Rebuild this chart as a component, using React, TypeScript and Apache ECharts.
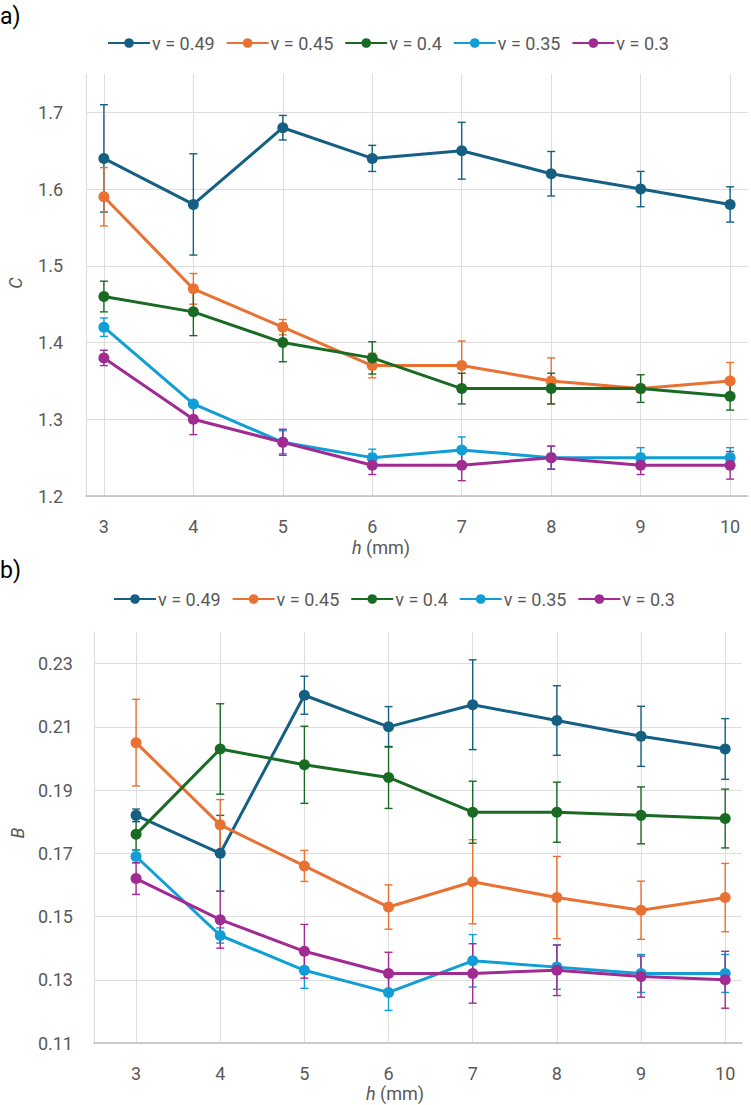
import React, { useEffect, useRef } from "react";
import * as echarts from "echarts";

const H_VALUES = [3, 4, 5, 6, 7, 8, 9, 10];
const SERIES_NAMES = ["ν = 0.49", "ν = 0.45", "ν = 0.4", "ν = 0.35", "ν = 0.3"];
const COLORS = ["#156082", "#E97132", "#196B24", "#0F9ED5", "#A02B93"];

// Panel a) C
const C_049 = [1.64, 1.58, 1.68, 1.64, 1.65, 1.62, 1.6, 1.58];
const C_049_ERR = [0.07, 0.066, 0.016, 0.017, 0.037, 0.029, 0.023, 0.023];
const C_045 = [1.59, 1.47, 1.42, 1.37, 1.37, 1.35, 1.34, 1.35];
const C_045_ERR = [0.038, 0.02, 0.01, 0.016, 0.032, 0.03, 0.005, 0.024];
const C_04 = [1.46, 1.44, 1.4, 1.38, 1.34, 1.34, 1.34, 1.33];
const C_04_ERR = [0.02, 0.031, 0.025, 0.021, 0.02, 0.02, 0.018, 0.018];
const C_035 = [1.42, 1.32, 1.27, 1.25, 1.26, 1.25, 1.25, 1.25];
const C_035_ERR = [0.012, 0.003, 0.015, 0.011, 0.017, 0.015, 0.013, 0.013];
const C_03 = [1.38, 1.3, 1.27, 1.24, 1.24, 1.25, 1.24, 1.24];
const C_03_ERR = [0.01, 0.02, 0.017, 0.012, 0.02, 0.015, 0.012, 0.018];

// Panel b) B
const B_049 = [0.182, 0.17, 0.22, 0.21, 0.217, 0.212, 0.207, 0.203];
const B_049_ERR = [0.002, 0.012, 0.006, 0.0064, 0.0142, 0.011, 0.0095, 0.0096];
const B_045 = [0.205, 0.179, 0.166, 0.153, 0.161, 0.156, 0.152, 0.156];
const B_045_ERR = [0.0137, 0.008, 0.0049, 0.007, 0.0133, 0.013, 0.0092, 0.0108];
const B_04 = [0.176, 0.203, 0.198, 0.194, 0.183, 0.183, 0.182, 0.181];
const B_04_ERR = [0.005, 0.0143, 0.0122, 0.0098, 0.0098, 0.0095, 0.009, 0.0093];
const B_035 = [0.169, 0.144, 0.133, 0.126, 0.136, 0.134, 0.132, 0.132];
const B_035_ERR = [0.002, 0.0024, 0.0057, 0.0057, 0.0083, 0.007, 0.006, 0.006];
const B_03 = [0.162, 0.149, 0.139, 0.132, 0.132, 0.133, 0.131, 0.13];
const B_03_ERR = [0.005, 0.009, 0.0085, 0.0067, 0.0094, 0.008, 0.0065, 0.009];

const C_SETS = [C_049, C_045, C_04, C_035, C_03];
const C_ERRS = [C_049_ERR, C_045_ERR, C_04_ERR, C_035_ERR, C_03_ERR];
const B_SETS = [B_049, B_045, B_04, B_035, B_03];
const B_ERRS = [B_049_ERR, B_045_ERR, B_04_ERR, B_035_ERR, B_03_ERR];

const FONT = "Roboto";
const TEXT = "#595959";

function lineSeries(name: string, ys: number[], color: string, idx: number) {
  return {
    type: "line",
    name,
    xAxisIndex: idx,
    yAxisIndex: idx,
    data: H_VALUES.map((x, i) => [x, ys[i]]),
    symbol: "circle",
    symbolSize: 11,
    showSymbol: true,
    lineStyle: { width: 3, color },
    itemStyle: { color },
    z: 3,
  };
}

function errSeries(ys: number[], errs: number[], color: string, idx: number) {
  return {
    type: "custom",
    xAxisIndex: idx,
    yAxisIndex: idx,
    silent: true,
    z: 2,
    encode: { x: 0, y: [1, 2] },
    data: H_VALUES.map((x, i) => [x, ys[i] - errs[i], ys[i] + errs[i]]),
    renderItem: (params: any, api: any) => {
      const lo = api.coord([api.value(0), api.value(1)]);
      const hi = api.coord([api.value(0), api.value(2)]);
      const w = 4;
      const st = { stroke: color, lineWidth: 1.4 };
      return {
        type: "group",
        children: [
          { type: "line", shape: { x1: lo[0], y1: lo[1], x2: hi[0], y2: hi[1] }, style: st },
          { type: "line", shape: { x1: lo[0] - w, y1: lo[1], x2: lo[0] + w, y2: lo[1] }, style: st },
          { type: "line", shape: { x1: hi[0] - w, y1: hi[1], x2: hi[0] + w, y2: hi[1] }, style: st },
        ],
      };
    },
  };
}

function xAxis(idx: number, min: number, max: number) {
  return {
    type: "value",
    gridIndex: idx,
    min,
    max,
    axisLine: { show: true, lineStyle: { color: "#bfbfbf", width: 1.5 } },
    axisTick: { show: false, customValues: H_VALUES },
    axisLabel: {
      customValues: H_VALUES,
      color: TEXT,
      fontFamily: FONT,
      fontSize: 18,
      margin: 21,
    },
    splitLine: { show: true, lineStyle: { color: "#dedede", width: 1 } },
  };
}

function yAxis(idx: number, min: number, max: number, interval: number, digits: number, margin: number) {
  return {
    type: "value",
    gridIndex: idx,
    min,
    max,
    interval,
    axisLine: { show: true, lineStyle: { color: "#d9d9d9", width: 1 } },
    axisTick: { show: false },
    axisLabel: {
      color: TEXT,
      fontFamily: FONT,
      fontSize: 18,
      margin,
      showMaxLabel: false,
      formatter: (v: number) => v.toFixed(digits),
    },
    splitLine: { show: true, showMaxLine: false, lineStyle: { color: "#dedede", width: 1 } },
  };
}

function legend(left: number, top: number) {
  return {
    data: SERIES_NAMES,
    left,
    top,
    itemWidth: 42,
    itemHeight: 12,
    itemGap: 11,
    textStyle: { fontSize: 18, color: TEXT, fontFamily: FONT, padding: [0, 0, 0, -3] },
  };
}

export default function App() {
  const ref = useRef<HTMLDivElement>(null);
  useEffect(() => {
    if (!ref.current) return;
    const chart = echarts.init(ref.current, undefined, { renderer: "svg" });
    const series: any[] = [];
    SERIES_NAMES.forEach((n, k) => {
      series.push(errSeries(C_SETS[k], C_ERRS[k], COLORS[k], 0));
      series.push(lineSeries(n, C_SETS[k], COLORS[k], 0));
      series.push(errSeries(B_SETS[k], B_ERRS[k], COLORS[k], 1));
      series.push(lineSeries(n, B_SETS[k], COLORS[k], 1));
    });
    chart.setOption({
      animation: false,
      backgroundColor: "#ffffff",
      color: COLORS,
      grid: [
        { left: 86, top: 74, width: 662, height: 422 },
        { left: 94, top: 632, width: 648, height: 411 },
      ],
      legend: [legend(102, 29), legend(108, 585)],
      xAxis: [xAxis(0, 2.8, 10.2), xAxis(1, 2.5, 10.2)],
      yAxis: [yAxis(0, 1.2, 1.75, 0.1, 1, 23), yAxis(1, 0.11, 0.24, 0.02, 2, 21)],
      graphic: [
        { type: "text", left: 0, top: 5, style: { text: "a)", fontSize: 23, fontFamily: FONT, fill: "#000" } },
        { type: "text", left: 0, top: 559, style: { text: "b)", fontSize: 23, fontFamily: FONT, fill: "#000" } },
        {
          type: "text", x: 15, y: 283, rotation: Math.PI / 2,
          style: { text: "C", fontSize: 18, fontStyle: "italic", fontFamily: FONT, fill: TEXT, align: "center", verticalAlign: "middle" },
        },
        {
          type: "text", x: 17, y: 833, rotation: Math.PI / 2,
          style: { text: "B", fontSize: 18, fontStyle: "italic", fontFamily: FONT, fill: TEXT, align: "center", verticalAlign: "middle" },
        },
        {
          type: "text", x: 381, y: 547,
          style: {
            text: "{i|h} (mm)", fontSize: 18, fontFamily: FONT, fill: TEXT, align: "center", verticalAlign: "middle",
            rich: { i: { fontStyle: "italic", fontSize: 18, fontFamily: FONT, fill: TEXT } },
          },
        },
        {
          type: "text", x: 395, y: 1093,
          style: {
            text: "{i|h} (mm)", fontSize: 18, fontFamily: FONT, fill: TEXT, align: "center", verticalAlign: "middle",
            rich: { i: { fontStyle: "italic", fontSize: 18, fontFamily: FONT, fill: TEXT } },
          },
        },
      ],
      series,
    });
    return () => chart.dispose();
  }, []);
  return (
    <div
      ref={ref}
      style={{ position: "absolute", left: 0, top: 0, width: 751, height: 1105, background: "#fff" }}
    />
  );
}
